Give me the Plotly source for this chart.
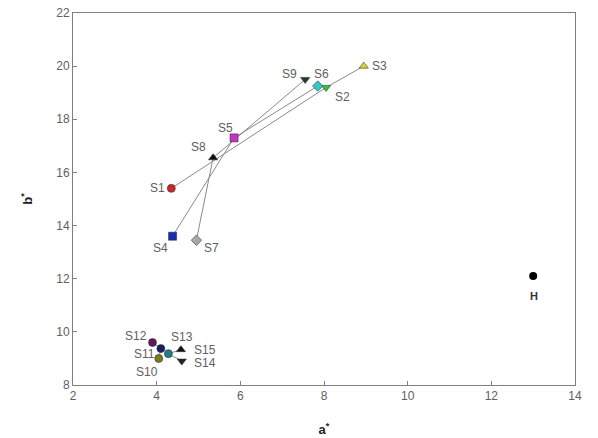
import plotly.graph_objects as go

# ---- data ----
names = ["S1", "S2", "S3", "S4", "S5", "S6", "S7", "S8", "S9",
         "S10", "S11", "S12", "S13", "S14", "S15"]
a_vals = [4.35, 8.05, 8.95, 4.38, 5.85, 7.85, 4.95, 5.35, 7.55,
          4.05, 4.10, 3.90, 4.58, 4.60, 4.28]
b_vals = [15.4, 19.2, 20.0, 13.6, 17.3, 19.25, 13.45, 16.55, 19.5,
          9.0, 9.37, 9.6, 9.33, 8.9, 9.18]
groups = [["S1", "S2", "S3"], ["S4", "S5", "S6"], ["S7", "S8", "S9"],
          ["S10", "S11", "S12"], ["S13", "S15", "S14"]]
h_name = "H"
h_a = [13.0]
h_b = [12.1]
x_ticks = [2, 4, 6, 8, 10, 12, 14]
y_ticks = [8, 10, 12, 14, 16, 18, 20, 22]

# ---- styles ----
colors = ["#c82828", "#2ec82e", "#d8d830", "#1a2db0", "#c830c8", "#30c8c8",
          "#a8a8a8", "#111111", "#1f3d2b", "#7a7a1e", "#1c1c66", "#5e1a5e",
          "#111111", "#222222", "#1f8080"]
symbols = ["circle", "triangle-down", "triangle-up", "square", "square", "diamond",
           "diamond", "triangle-up", "triangle-down", "circle", "circle", "circle",
           "triangle-up", "triangle-down", "circle"]
# label offsets (px): (ax, ay) from the point
label_pos = {
    "S1": (-14, 0), "S2": (16, 10), "S3": (16, 0), "S4": (-12, 12),
    "S5": (-9, -10), "S6": (4, -12), "S7": (15, 8), "S8": (-15, -11),
    "S9": (-16, -5), "S10": (-12, 14), "S11": (-16, 5), "S12": (-16, -6),
    "S13": (1, -13), "S14": (23, 2), "S15": (37, -4),
}

idx = {n: i for i, n in enumerate(names)}
fig = go.Figure()

for g in groups:
    fig.add_trace(go.Scatter(
        x=[a_vals[idx[n]] for n in g], y=[b_vals[idx[n]] for n in g],
        mode="lines", line=dict(color="#8a8a8a", width=1), hoverinfo="skip",
        showlegend=False))

fig.add_trace(go.Scatter(
    x=a_vals, y=b_vals, mode="markers", showlegend=False,
    marker=dict(color=colors, symbol=symbols, size=8,
                line=dict(color="#333333", width=0.6))))

fig.add_trace(go.Scatter(
    x=h_a, y=h_b, mode="markers", showlegend=False,
    marker=dict(color="#000000", symbol="circle", size=8)))

for n in names:
    ax, ay = label_pos[n]
    fig.add_annotation(x=a_vals[idx[n]], y=b_vals[idx[n]], text=n,
                       showarrow=False, xshift=ax, yshift=-ay,
                       font=dict(family="Arial, Liberation Sans", size=12, color="#606060"))

fig.add_annotation(x=h_a[0], y=h_b[0], text="<b>" + h_name + "</b>", showarrow=False,
                   xshift=1, yshift=-20,
                   font=dict(family="Arial, Liberation Sans", size=11, color="#333333"))

axis_common = dict(showgrid=False, zeroline=False, showline=True, linecolor="#808080",
                   linewidth=1, mirror=True, ticks="inside", ticklen=4, tickcolor="#808080",
                   automargin=False,
                   tickfont=dict(family="Arial, Liberation Sans", size=12, color="#606060"))

fig.update_xaxes(range=[2, 14], tickvals=x_ticks, **axis_common,
                 title=dict(text="<b>a<sup>*</sup></b>", standoff=22,
                            font=dict(family="Arial, Liberation Sans", size=13, color="#222222")))
fig.update_yaxes(range=[8, 22], tickvals=y_ticks, **axis_common,
                 title=dict(text="<b>b<sup>*</sup></b>", standoff=20,
                            font=dict(family="Arial, Liberation Sans", size=13, color="#222222")))

fig.update_layout(width=598, height=438, plot_bgcolor="white", paper_bgcolor="white",
                  margin=dict(l=73, r=23, t=13, b=53))

fig.write_html("out.html")
